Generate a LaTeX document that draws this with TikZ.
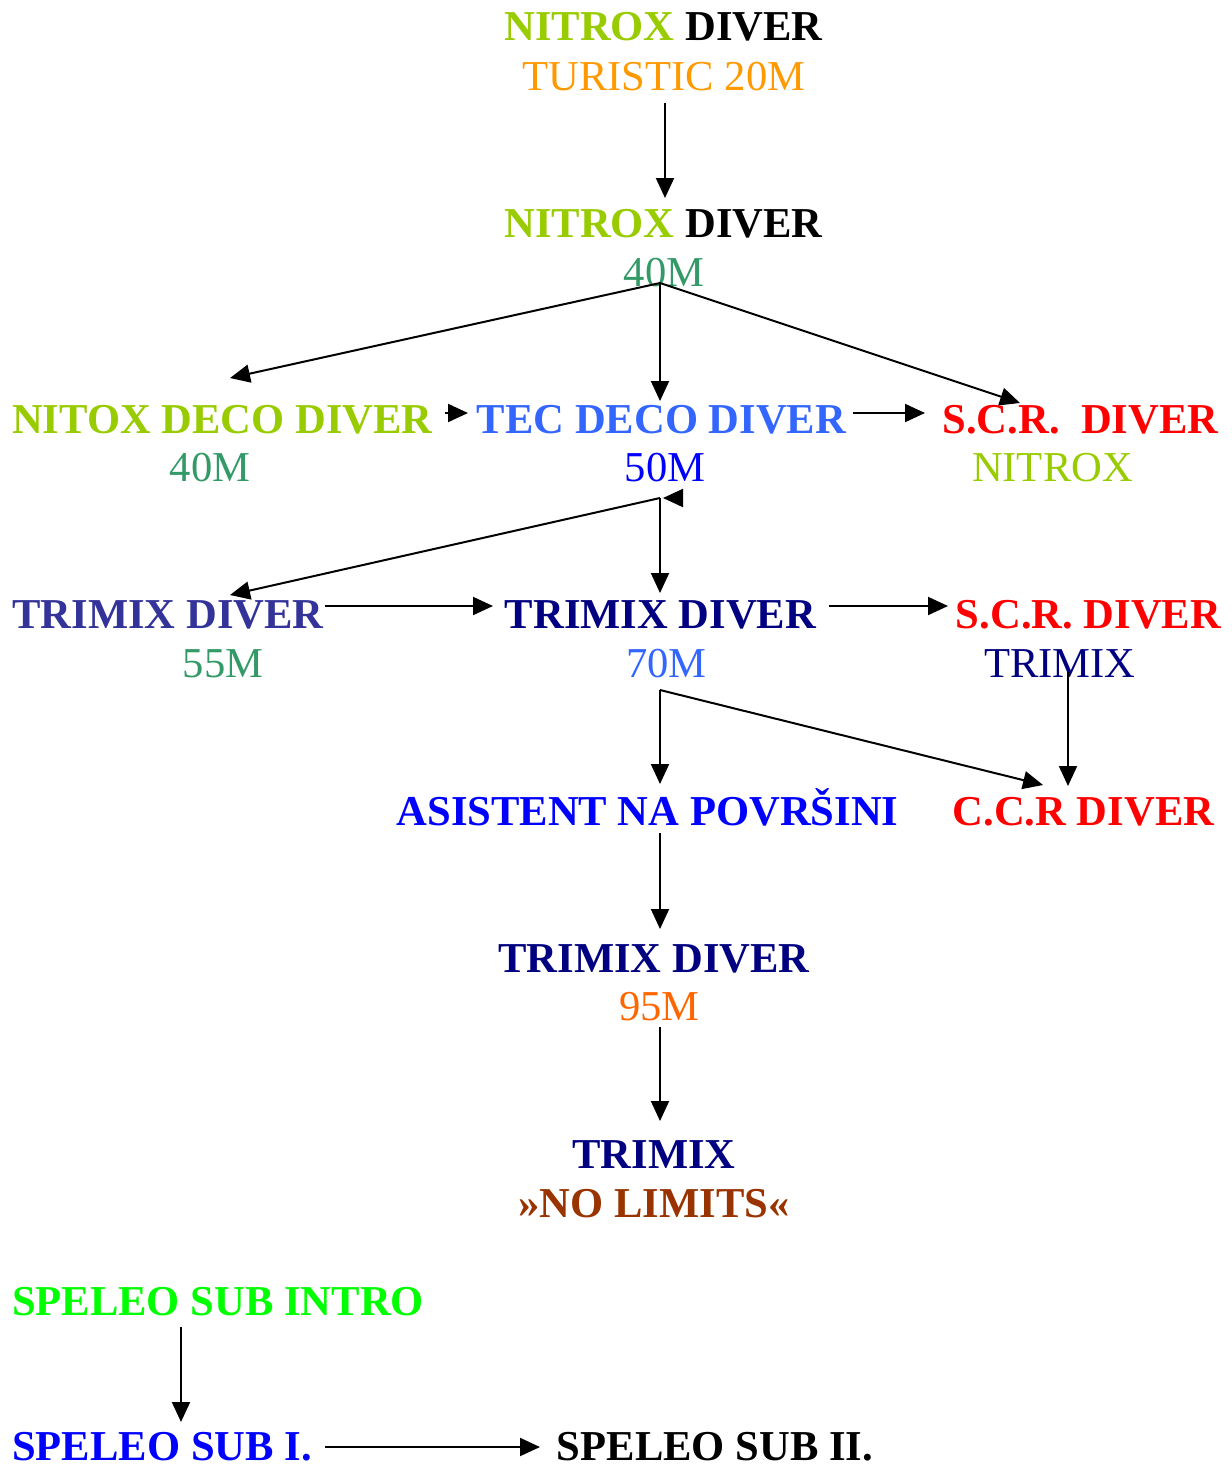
\documentclass[tikz,border=0pt]{standalone}
\usepackage{fontspec}
\setmainfont{Liberation Serif}
\usetikzlibrary{arrows.meta}
\definecolor{nitroxc}{HTML}{99CC00}
\definecolor{turc}{HTML}{FF9900}
\definecolor{greenm}{HTML}{339966}
\definecolor{tecblue}{HTML}{3366FF}
\definecolor{pureblue}{HTML}{0000FF}
\definecolor{scrred}{HTML}{FF0000}
\definecolor{trimixl}{HTML}{333399}
\definecolor{navyc}{HTML}{000080}
\definecolor{orange95}{HTML}{FF6600}
\definecolor{brownc}{HTML}{993300}
\definecolor{limec}{HTML}{00FF00}
\begin{document}
\begin{tikzpicture}[x=0.5pt,y=-0.5pt,
  lbl/.style={inner sep=0pt,outer sep=0pt,anchor=base,font=\fontsize{21.3pt}{25pt}\selectfont},
  bl/.style={lbl,font=\fontsize{21.3pt}{25pt}\selectfont\bfseries},
  arr/.style={-{Triangle[length=10pt,width=9pt]},line width=1pt,black}]
\useasboundingbox (0,0) rectangle (1232,1468);
% texts
\node[bl] (t1) at (663.5,40) {\textcolor{nitroxc}{NITROX} DIVER};
\node[lbl,text=turc] (t1b) at (664,90) {TURISTIC 20M};
\node[bl] (t2) at (663.5,237) {\textcolor{nitroxc}{NITROX} DIVER};
\node[lbl,text=greenm] (t2b) at (664,286) {40M};
\node[bl,text=nitroxc] (nd) at (222.5,433) {NITOX DECO DIVER};
\node[lbl,text=greenm] (ndb) at (210,481) {40M};
\node[bl,text=tecblue] (td) at (661.5,433) {TEC DECO DIVER};
\node[lbl,text=pureblue] (tdb) at (665,481) {50M};
\node[bl,text=scrred] (s1) at (1080.5,433) {S.C.R.\ \ DIVER};
\node[lbl,text=nitroxc] (s1b) at (1052.5,481) {NITROX};
\node[bl,text=trimixl] (tl) at (168,628) {TRIMIX DIVER};
\node[lbl,text=greenm] (tlb) at (223,677) {55M};
\node[bl,text=navyc] (tm) at (660.5,628) {TRIMIX DIVER};
\node[lbl,text=tecblue] (tmb) at (666.5,677) {70M};
\node[bl,text=scrred] (s2) at (1088.5,628) {S.C.R. DIVER};
\node[lbl,text=navyc] (s2b) at (1060,677) {TRIMIX};
\node[bl,text=pureblue] (as) at (647.5,825) {ASISTENT NA POVRŠINI};
\node[bl,text=scrred] (cc) at (1083.5,825) {C.C.R DIVER};
\node[bl,text=navyc] (t95) at (654,972) {TRIMIX DIVER};
\node[lbl,text=orange95] (t95b) at (659.5,1020) {95M};
\node[bl,text=navyc] (nl) at (654,1168) {TRIMIX};
\node[bl,text=brownc] (nlb) at (654,1217) {»NO LIMITS«};
\node[bl,text=limec] (sp0) at (218,1315) {SPELEO SUB INTRO};
\node[bl,text=pureblue] (sp1) at (162,1460) {SPELEO SUB I.};
\node[bl] (sp2) at (715,1460) {SPELEO SUB II.};
% ports
\coordinate (p1a) at (665,103);
\coordinate (p1b) at (665,198);
\coordinate (b40) at (660,283);
\coordinate (ndin) at (230,378);
\coordinate (tdin) at (660,401);
\coordinate (s1in) at (1020,403);
\coordinate (ndout) at (445,413);
\coordinate (tdin2) at (468,413);
\coordinate (tdout) at (853,413);
\coordinate (s1in2) at (925,413);
\coordinate (b50) at (660,498);
\coordinate (tlin) at (230,595);
\coordinate (tmin) at (660,593);
\coordinate (b50s) at (682,498);
\coordinate (b50t) at (663,498);
\coordinate (tlout) at (325,606);
\coordinate (tmin2) at (493,606);
\coordinate (tmout) at (829,606);
\coordinate (s2in) at (948,606);
\coordinate (b70) at (660,690);
\coordinate (asin) at (660,784);
\coordinate (ccin) at (1043,785);
\coordinate (s2out) at (1068,672);
\coordinate (ccin2) at (1068,786);
\coordinate (asout) at (660,833);
\coordinate (t95in) at (660,929);
\coordinate (t95out) at (660,1027);
\coordinate (nlin) at (660,1121);
\coordinate (sp0out) at (181,1327);
\coordinate (sp1in) at (181,1422);
\coordinate (sp1out) at (325,1447);
\coordinate (sp2in) at (540,1447);
% connectors
\draw[arr] (p1a) -- (p1b);
\draw[arr] (b40) -- (ndin);
\draw[arr] (b40) -- (tdin);
\draw[arr] (b40) -- (s1in);
\draw[arr] (ndout) -- (tdin2);
\draw[arr] (tdout) -- (s1in2);
\draw[arr] (b50) -- (tlin);
\draw[arr] (b50) -- (tmin);
\draw[arr] (b50s) -- (b50t);
\draw[arr] (tlout) -- (tmin2);
\draw[arr] (tmout) -- (s2in);
\draw[arr] (b70) -- (asin);
\draw[arr] (b70) -- (ccin);
\draw[arr] (s2out) -- (ccin2);
\draw[arr] (asout) -- (t95in);
\draw[arr] (t95out) -- (nlin);
\draw[arr] (sp0out) -- (sp1in);
\draw[arr] (sp1out) -- (sp2in);
\end{tikzpicture}
\end{document}
